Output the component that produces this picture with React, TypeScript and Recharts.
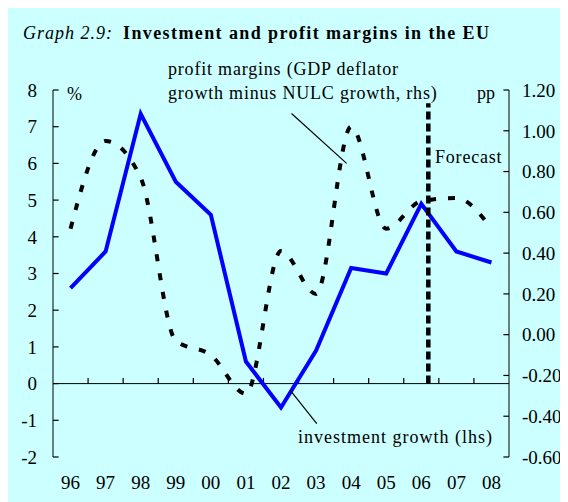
import React from 'react'
import {LineChart, Line, XAxis, YAxis, ReferenceLine} from 'recharts'

const years = ['96', '97', '98', '99', '00', '01', '02', '03', '04', '05', '06', '07', '08']
const investmentGrowth = [2.6, 3.6, 7.35, 5.5, 4.6, 0.6, -0.65, 0.9, 3.15, 3.0, 4.9, 3.6, 3.3]
const profitMargins = [0.52, 0.95, 0.77, -0.03, -0.1, -0.29, 0.41, 0.2, 1.02, 0.52, 0.655, 0.67, 0.52]
const lhsTicks = [-2, -1, 0, 1, 2, 3, 4, 5, 6, 7, 8]
const rhsTicks = [-0.6, -0.4, -0.2, 0, 0.2, 0.4, 0.6, 0.8, 1.0, 1.2]

const FONT = "'Liberation Serif', 'Times New Roman', serif"
const W = 560
const H = 494

export default function App() {
  // pos = centre of each year's slot on a hidden 0..13 axis, used for the decorations
  const data = years.map((year, i) => ({
    year,
    pos: i + 0.5,
    investment: investmentGrowth[i],
    profit: profitMargins[i],
  }))
  // category boundaries for the little ticks on the zero line
  const bounds = years.slice(1).map((_, i) => i + 1)
  const tickStyle = {fill: '#000', fontSize: 19, fontFamily: FONT}

  return (
    <div style={{position: 'relative', width: W, height: H, background: '#CCFFFF', fontFamily: FONT}}>
      <LineChart
        width={W}
        height={H}
        data={data}
        margin={{top: 82, right: 0, bottom: 15, left: 0}}
      >
        <XAxis
          dataKey="year"
          height={30}
          axisLine={false}
          tickLine={false}
          tickSize={0}
          tickMargin={19}
          interval={0}
          padding={{left: 17.54, right: 17.54}}
          tick={tickStyle}
        />
        <XAxis
          xAxisId="n"
          dataKey="pos"
          type="number"
          domain={[0, 13]}
          allowDataOverflow
          hide
        />
        <YAxis
          yAxisId="l"
          orientation="left"
          width={45}
          domain={[-2, 8]}
          ticks={lhsTicks}
          interval={0}
          tickLine={false}
          tickSize={0}
          tickMargin={16}
          axisLine={{stroke: '#000', strokeWidth: 1}}
          tick={tickStyle}
        />
        <YAxis
          yAxisId="r"
          orientation="right"
          width={59}
          domain={[-0.6, 1.2]}
          ticks={rhsTicks}
          interval={0}
          tickLine={false}
          tickSize={0}
          tickMargin={13}
          axisLine={{stroke: '#000', strokeWidth: 1}}
          tick={tickStyle}
          tickFormatter={(v: number) => v.toFixed(2)}
        />

        <ReferenceLine yAxisId="l" y={0} stroke="#000" strokeWidth={1} />
        {bounds.map((b) => (
          <ReferenceLine
            key={'b' + b}
            xAxisId="n"
            yAxisId="l"
            segment={[{x: b, y: 0}, {x: b, y: 0.155}]}
            stroke="#000"
            strokeWidth={1.2}
            ifOverflow="visible"
          />
        ))}
        {lhsTicks.map((t) => (
          <ReferenceLine
            key={'l' + t}
            xAxisId="n"
            yAxisId="l"
            segment={[{x: 0, y: t}, {x: 0.16, y: t}]}
            stroke="#000"
            strokeWidth={1.2}
            ifOverflow="visible"
          />
        ))}
        {rhsTicks.map((t) => (
          <ReferenceLine
            key={'r' + t}
            xAxisId="n"
            yAxisId="r"
            segment={[{x: 12.84, y: t}, {x: 13, y: t}]}
            stroke="#000"
            strokeWidth={1.2}
            ifOverflow="visible"
          />
        ))}

        <Line
          yAxisId="l"
          dataKey="investment"
          type="linear"
          stroke="#0000FF"
          strokeWidth={4}
          dot={false}
          activeDot={false}
          isAnimationActive={false}
        />
        <Line
          yAxisId="r"
          dataKey="profit"
          type="monotone"
          stroke="#000"
          strokeWidth={4}
          strokeDasharray="7 12"
          dot={false}
          activeDot={false}
          isAnimationActive={false}
        />

        {/* pointer lines to the annotations */}
        <ReferenceLine
          xAxisId="n"
          yAxisId="l"
          segment={[{x: 6.8, y: 7.36}, {x: 8.37, y: 6.0}]}
          stroke="#000"
          strokeWidth={1.2}
          ifOverflow="visible"
        />
        <ReferenceLine
          xAxisId="n"
          yAxisId="l"
          segment={[{x: 6.76, y: -0.18}, {x: 7.52, y: -1.09}]}
          stroke="#000"
          strokeWidth={1.2}
          ifOverflow="visible"
        />
        {/* forecast divider */}
        <ReferenceLine
          xAxisId="n"
          yAxisId="l"
          segment={[{x: 10.7, y: 0}, {x: 10.7, y: 7.64}]}
          stroke="#000"
          strokeWidth={4.5}
          strokeDasharray="8 4"
          ifOverflow="visible"
        />
      </LineChart>

      <svg
        width={W}
        height={H}
        style={{position: 'absolute', left: 0, top: 0, pointerEvents: 'none'}}
        fontFamily={FONT}
      >
        <text x={15} y={30.5} fontSize={18} fontStyle="italic" letterSpacing={1}>
          Graph 2.9:
        </text>
        <text x={115} y={30.5} fontSize={18} fontWeight="bold" letterSpacing={1.4}>
          Investment and profit margins in the EU
        </text>
        <text x={160} y={67} fontSize={18} letterSpacing={0.8}>
          profit margins (GDP deflator
        </text>
        <text x={160} y={91} fontSize={18} letterSpacing={0.8}>
          growth minus NULC growth, rhs)
        </text>
        <text x={59} y={91.5} fontSize={18}>
          %
        </text>
        <text x={469} y={91} fontSize={18}>
          pp
        </text>
        <text x={427} y={154.7} fontSize={18} letterSpacing={0.8}>
          Forecast
        </text>
        <text x={290} y={435} fontSize={18} letterSpacing={1}>
          investment growth (lhs)
        </text>
      </svg>
    </div>
  )
}
